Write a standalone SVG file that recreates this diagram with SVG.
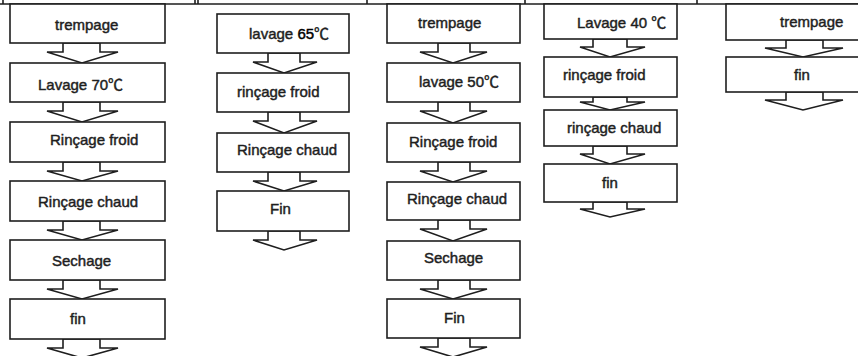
<svg xmlns="http://www.w3.org/2000/svg" width="858" height="356" viewBox="0 0 858 356">
<style>
.b{fill:#fff;stroke:#1e1e1e;stroke-width:1.6}
.a{fill:#fff;stroke:#1e1e1e;stroke-width:1.6;stroke-linejoin:miter}
.f{fill:none;stroke:#1e1e1e;stroke-width:1.6}
text{font-family:"Liberation Sans",Arial,"Noto Sans CJK SC",sans-serif;font-size:15px;fill:#1e1e1e;stroke:#1e1e1e;stroke-width:0.45}
</style>
<rect width="858" height="356" fill="#fff"/>
<g id="frame">
<path class="f" d="M0 4H858M3 0V4M195 0V4M198 0V4M367 0V4M525 0V4M697 0V4"/>
</g>
<g id="connectors">
<polygon class="a" points="63,43 63,52 47,52 82,63 118,52 100,52 100,43"/>
<polygon class="a" points="63,102 63,111 47,111 82,122 118,111 100,111 100,102"/>
<polygon class="a" points="63,162 63,171 47,171 82,181 118,171 100,171 100,162"/>
<polygon class="a" points="63,221 63,230 47,230 82,240 118,230 100,230 100,221"/>
<polygon class="a" points="63,280 63,289 47,289 82,299 118,289 100,289 100,280"/>
<polygon class="a" points="63,339 63,348 47,348 82,358 118,348 100,348 100,339"/>
<polygon class="a" points="268,53 268,62 253,62 284,73 317,62 300,62 300,53"/>
<polygon class="a" points="268,112 268,121 253,121 284,133 317,121 300,121 300,112"/>
<polygon class="a" points="268,172 268,181 253,181 284,191 317,181 300,181 300,172"/>
<polygon class="a" points="268,231 268,240 253,240 284,250 317,240 300,240 300,231"/>
<polygon class="a" points="438,43 438,52 420,52 453,63 487,52 470,52 470,43"/>
<polygon class="a" points="438,102 438,111 420,111 453,123 487,111 470,111 470,102"/>
<polygon class="a" points="438,162 438,171 420,171 453,182 487,171 470,171 470,162"/>
<polygon class="a" points="438,220 438,229 420,229 453,241 487,229 470,229 470,220"/>
<polygon class="a" points="438,280 438,289 420,289 453,299 487,289 470,289 470,280"/>
<polygon class="a" points="438,338 438,347 420,347 453,357 487,347 470,347 470,338"/>
<polygon class="a" points="593,39 593,47 580,47 610,57 645,47 627,47 627,39"/>
<polygon class="a" points="593,97 593,102 580,102 610,110 645,102 627,102 627,97"/>
<polygon class="a" points="593,146 593,154 580,154 610,164 645,154 627,154 627,146"/>
<polygon class="a" points="593,202 593,209 580,209 610,217 645,209 627,209 627,202"/>
<polygon class="a" points="786,40 786,48 765,48 803,57 843,48 823,48 823,40"/>
<polygon class="a" points="786,92 786,100 765,100 803,110 843,100 823,100 823,92"/>
</g>
<g id="c1n1"><rect class="b" x="10" y="4" width="155" height="39"/><text x="55" y="29.5">trempage</text></g>
<g id="c1n2"><rect class="b" x="10" y="63" width="155" height="39"/><text x="38" y="90">Lavage 70℃</text></g>
<g id="c1n3"><rect class="b" x="10" y="122" width="155" height="40"/><text x="50" y="145">Rinçage froid</text></g>
<g id="c1n4"><rect class="b" x="10" y="181" width="155" height="40"/><text x="38" y="207">Rinçage chaud</text></g>
<g id="c1n5"><rect class="b" x="10" y="240" width="155" height="40"/><text x="52" y="266">Sechage</text></g>
<g id="c1n6"><rect class="b" x="10" y="299" width="155" height="40"/><text x="70" y="324">fin</text></g>
<g id="c2n1"><rect class="b" x="217" y="14" width="132" height="39"/><text x="249" y="38.5">lavage <tspan fill="#000" stroke="#000">65</tspan>℃</text></g>
<g id="c2n2"><rect class="b" x="217" y="73" width="132" height="39"/><text x="237" y="97">rinçage froid</text></g>
<g id="c2n3"><rect class="b" x="217" y="133" width="132" height="39"/><text x="237" y="155">Rinçage chaud</text></g>
<g id="c2n4"><rect class="b" x="217" y="191" width="132" height="40"/><text x="270" y="214">Fin</text></g>
<g id="c3n1"><rect class="b" x="387" y="4" width="133" height="39"/><text x="418" y="27.5">trempage</text></g>
<g id="c3n2"><rect class="b" x="387" y="63" width="133" height="39"/><text x="419" y="87">lavage 50℃</text></g>
<g id="c3n3"><rect class="b" x="387" y="123" width="133" height="39"/><text x="409" y="147">Rinçage froid</text></g>
<g id="c3n4"><rect class="b" x="387" y="182" width="133" height="38"/><text x="407" y="204">Rinçage chaud</text></g>
<g id="c3n5"><rect class="b" x="387" y="241" width="133" height="39"/><text x="424" y="263">Sechage</text></g>
<g id="c3n6"><rect class="b" x="387" y="299" width="133" height="39"/><text x="444" y="322.5">Fin</text></g>
<g id="c4n1"><rect class="b" x="544" y="4" width="133" height="35"/><text x="577" y="27.5">Lavage 40 ℃</text></g>
<g id="c4n2"><rect class="b" x="544" y="57" width="133" height="40"/><text x="563" y="80">rinçage froid</text></g>
<g id="c4n3"><rect class="b" x="544" y="110" width="133" height="36"/><text x="567" y="132.5">rinçage chaud</text></g>
<g id="c4n4"><rect class="b" x="544" y="164" width="133" height="38"/><text x="602" y="187.5">fin</text></g>
<g id="c5n1"><rect class="b" x="726" y="4" width="150" height="36"/><text x="780" y="27">trempage</text></g>
<g id="c5n2"><rect class="b" x="726" y="57" width="150" height="35"/><text x="794" y="80">fin</text></g>
</svg>
